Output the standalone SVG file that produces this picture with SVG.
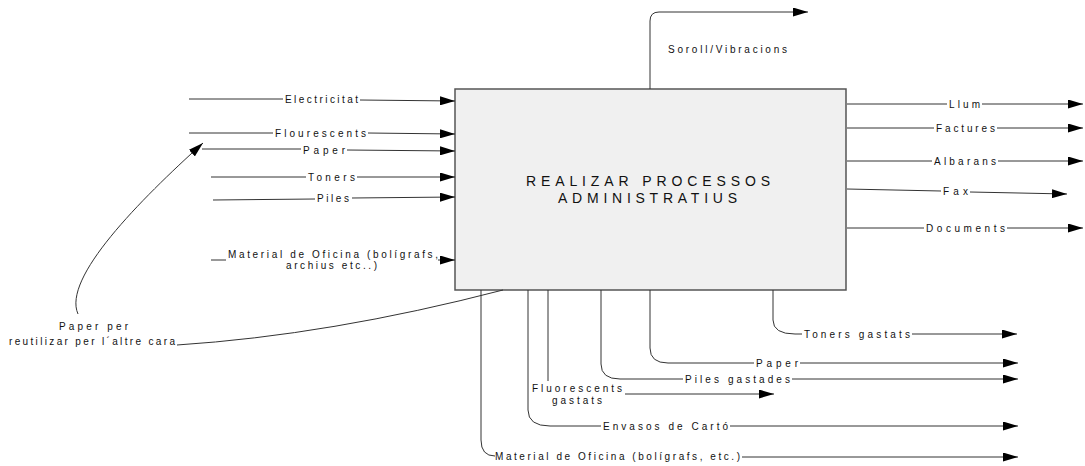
<svg xmlns="http://www.w3.org/2000/svg" width="1085" height="466" viewBox="0 0 1085 466">
<defs>
<marker id="ah" markerWidth="15" markerHeight="9" refX="15" refY="4.5" orient="auto" markerUnits="userSpaceOnUse"><path d="M0,0 L15,4.5 L0,9 z" fill="#000"/></marker>
<style>
.c{fill:none;stroke:#333;stroke-width:1}
.a{marker-end:url(#ah)}
.t{font-family:"Liberation Sans",Arial,sans-serif;font-size:10px;fill:#111}
.b{font-family:"Liberation Sans",Arial,sans-serif;font-size:14px;fill:#111}
</style>
</defs>
<rect width="1085" height="466" fill="#fff"/>
<g id="process">
<rect x="455" y="89" width="391" height="201" fill="#f0f0f0" stroke="#555" stroke-width="1.5"/>
<text class="b" x="526" y="186" textLength="244" lengthAdjust="spacing">REALIZAR PROCESSOS</text>
<text class="b" x="558" y="203" textLength="179" lengthAdjust="spacing">ADMINISTRATIUS</text>
</g>
<g id="connectors">
<path class="c" d="M189,99 H283"/><path class="c a" d="M360,100 L455,101"/>
<path class="c" d="M189,133 H273"/><path class="c a" d="M368,133 L455,134"/>
<path class="c" d="M202,149 H301"/><path class="c a" d="M347,150 L455,151"/>
<path class="c" d="M211,177 H306"/><path class="c a" d="M357,177 H455"/>
<path class="c" d="M213,200 L315,199"/><path class="c a" d="M352,198 L455,197"/>
<path class="c" d="M211,260 H226"/><path class="c a" d="M438,260 H455"/>
<path class="c" d="M847,104 H947"/><path class="c a" d="M982,104 H1083"/>
<path class="c" d="M847,128 H934"/><path class="c a" d="M997,128 H1083"/>
<path class="c" d="M847,161 H932"/><path class="c a" d="M998,161 H1083"/>
<path class="c" d="M847,189 L941,191"/><path class="c a" d="M970,192 L1067,194"/>
<path class="c" d="M847,228 H924"/><path class="c a" d="M1007,228 H1083"/>
<path class="c a" d="M650,89 V21 Q650,12 659,12 H808"/>
<path class="c" d="M773,290 V320 Q773,334 795,334 H802"/><path class="c a" d="M912,334 H1017"/>
<path class="c" d="M650,290 V348 Q650,363 668,363 H754"/><path class="c a" d="M800,363 H1018"/>
<path class="c" d="M601,290 V364 Q601,379 620,379 H683"/><path class="c a" d="M792,379 H1018"/>
<path class="c" d="M548,290 V381"/><path class="c a" d="M625,394 H774"/>
<path class="c" d="M528,290 V410 Q528,426 550,426 H601"/><path class="c a" d="M730,426 H1018"/>
<path class="c" d="M481,290 V440 Q481,456 495,456"/><path class="c a" d="M742,457 H1018"/>
<path class="c" d="M503,290 Q330,335 177,345"/>
<path class="c a" d="M78,314 C62,278 140,200 203,143"/>
</g>
<g id="labels">
<text class="t" x="285" y="103" textLength="73" lengthAdjust="spacing">Electricitat</text>
<text class="t" x="275" y="137" textLength="91" lengthAdjust="spacing">Flourescents</text>
<text class="t" x="303" y="154" textLength="42" lengthAdjust="spacing">Paper</text>
<text class="t" x="308" y="181" textLength="47" lengthAdjust="spacing">Toners</text>
<text class="t" x="317" y="202" textLength="32" lengthAdjust="spacing">Piles</text>
<text class="t" x="228" y="257.5" textLength="210" lengthAdjust="spacing">Material de Oficina (bolígrafs,</text>
<text class="t" x="286" y="268.5" textLength="91" lengthAdjust="spacing">archius etc..)</text>
<text class="t" x="949" y="107.5" textLength="31" lengthAdjust="spacing">Llum</text>
<text class="t" x="936" y="131.5" textLength="59" lengthAdjust="spacing">Factures</text>
<text class="t" x="934" y="164.5" textLength="62" lengthAdjust="spacing">Albarans</text>
<text class="t" x="943" y="194.5" textLength="25" lengthAdjust="spacing">Fax</text>
<text class="t" x="926" y="231.5" textLength="79" lengthAdjust="spacing">Documents</text>
<text class="t" x="668" y="53" textLength="119" lengthAdjust="spacing">Soroll/Vibracions</text>
<text class="t" x="804" y="338" textLength="106" lengthAdjust="spacing">Toners gastats</text>
<text class="t" x="756" y="366.5" textLength="42" lengthAdjust="spacing">Paper</text>
<text class="t" x="685" y="382.5" textLength="105" lengthAdjust="spacing">Piles gastades</text>
<text class="t" x="532" y="391.5" textLength="90" lengthAdjust="spacing">Fluorescents</text>
<text class="t" x="552" y="404" textLength="50" lengthAdjust="spacing">gastats</text>
<text class="t" x="603" y="429.5" textLength="125" lengthAdjust="spacing">Envasos de Cartó</text>
<text class="t" x="495" y="460" textLength="245" lengthAdjust="spacing">Material de Oficina (bolígrafs, etc.)</text>
<text class="t" x="59" y="330" textLength="69" lengthAdjust="spacing">Paper per</text>
<text class="t" x="9" y="344.5" textLength="166" lengthAdjust="spacing">reutilizar per l´altre cara</text>
</g>
</svg>
